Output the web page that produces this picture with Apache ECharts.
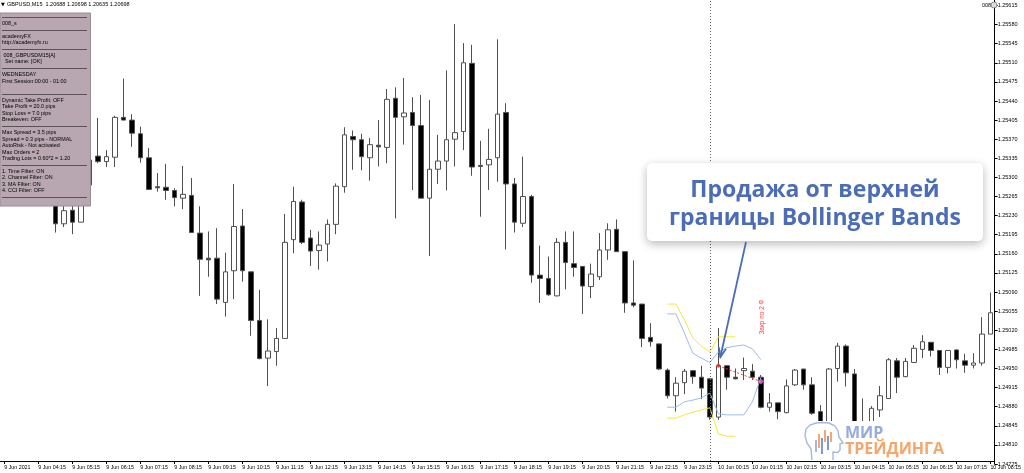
<!DOCTYPE html>
<html><head><meta charset="utf-8"><title>GBPUSD M15</title>
<script src="https://cdn.jsdelivr.net/npm/echarts@6.0.0/dist/echarts.min.js"></script>
<style>html,body{margin:0;padding:0;background:#fff;overflow:hidden}#chart{width:1024px;height:473px}</style>
</head><body><div id="chart"></div>
<script>
const tickLabels = ['9 Jun 2021','9 Jun 04:15','9 Jun 05:15','9 Jun 06:15','9 Jun 07:15','9 Jun 08:15','9 Jun 09:15','9 Jun 10:15','9 Jun 11:15','9 Jun 12:15','9 Jun 13:15','9 Jun 14:15','9 Jun 15:15','9 Jun 16:15','9 Jun 17:15','9 Jun 18:15','9 Jun 19:15','9 Jun 20:15','9 Jun 21:15','9 Jun 22:15','9 Jun 23:15','10 Jun 00:15','10 Jun 01:15','10 Jun 02:15','10 Jun 03:15','10 Jun 04:15','10 Jun 05:15','10 Jun 06:15','10 Jun 07:15','10 Jun 08:15'];

const open = [
1.25350,1.25360,1.25323,1.25305,1.25314,1.25277,1.25262,1.25215,1.25240,1.25218,
1.25286,1.25339,1.25329,1.25337,1.25410,1.25405,1.25380,1.25336,1.25283,1.25282,
1.25276,1.25262,1.25267,1.25198,1.25152,1.25152,1.25071,1.25129,1.25211,1.25127,
1.25038,1.24969,1.24981,1.25005,1.25186,1.25255,1.25189,1.25166,1.25178,1.25214,
1.25283,1.25375,1.25369,1.25336,1.25359,1.25355,1.25445,1.25411,1.25419,1.25395,
1.25262,1.25315,1.25330,1.25370,1.25384,1.25509,1.25322,1.25323,1.25336,1.25419,
1.25288,1.25216,1.25265,1.25121,1.25115,1.25083,1.25181,1.25142,1.25137,1.25100,
1.25118,1.25167,1.25205,1.25164,1.25070,1.25068,1.25007,1.24995,1.24947,1.24900,
1.24924,1.24946,1.24934,1.24931,1.24861,1.24955,1.24934,1.24946,1.24945,1.24934,
1.24879,1.24887,1.24869,1.24920,1.24949,1.24920,1.24871,1.24828,1.24950,1.24991,
1.24940,1.24815,1.24837,1.24874,1.24895,1.24964,1.24935,1.24961,1.24985,1.24998,
1.24983,1.24952,1.24984,1.24964,1.24956,1.24960,1.25013];
const close = [
1.25360,1.25323,1.25305,1.25314,1.25277,1.25268,1.25215,1.25239,1.25218,1.25286,
1.25332,1.25329,1.25338,1.25410,1.25405,1.25381,1.25336,1.25278,1.25281,1.25276,
1.25263,1.25269,1.25199,1.25150,1.25149,1.25077,1.25127,1.25210,1.25129,1.25038,
1.24968,1.24982,1.25005,1.25181,1.25256,1.25181,1.25165,1.25176,1.25214,1.25284,
1.25378,1.25369,1.25338,1.25360,1.25356,1.25443,1.25410,1.25418,1.25395,1.25262,
1.25315,1.25330,1.25369,1.25382,1.25510,1.25319,1.25320,1.25333,1.25416,1.25288,
1.25218,1.25265,1.25121,1.25115,1.25085,1.25181,1.25144,1.25135,1.25101,1.25123,
1.25167,1.25204,1.25164,1.25070,1.25066,1.25005,1.24999,1.24949,1.24900,1.24923,
1.24945,1.24935,1.24914,1.24861,1.24955,1.24934,1.24931,1.24950,1.24934,1.24879,
1.24887,1.24871,1.24918,1.24947,1.24920,1.24868,1.24837,1.24949,1.24991,1.24942,
1.24819,1.24837,1.24877,1.24900,1.24966,1.24934,1.24963,1.24987,1.24999,1.24983,
1.24952,1.24983,1.24966,1.24956,1.24960,1.25013,1.25052];
const low = [
1.25332,1.25314,1.25286,1.25277,1.25262,1.25259,1.25199,1.25209,1.25196,1.25218,
1.25273,1.25326,1.25319,1.25319,1.25405,1.25356,1.25327,1.25277,1.25274,1.25259,
1.25247,1.25242,1.25199,1.25083,1.25118,1.25068,1.25045,1.25077,1.25109,1.25010,
1.24967,1.24918,1.24955,1.25005,1.25161,1.25178,1.25138,1.25131,1.25146,1.25196,
1.25272,1.25314,1.25313,1.25294,1.25320,1.25326,1.25225,1.25360,1.25277,1.25262,
1.25156,1.25288,1.25276,1.25320,1.25350,1.25303,1.25228,1.25277,1.25292,1.25168,
1.25199,1.25209,1.25107,1.25070,1.25083,1.25082,1.25095,1.25118,1.25050,1.25079,
1.25112,1.25149,1.25164,1.25052,1.25062,1.24989,1.24990,1.24947,1.24895,1.24871,
1.24903,1.24922,1.24894,1.24856,1.24856,1.24911,1.24930,1.24929,1.24929,1.24877,
1.24871,1.24857,1.24868,1.24918,1.24911,1.24865,1.24823,1.24819,1.24926,1.24917,
1.24808,1.24801,1.24828,1.24861,1.24894,1.24905,1.24934,1.24960,1.24969,1.24972,
1.24938,1.24941,1.24950,1.24942,1.24950,1.24955,1.25013];
const high = [
1.25378,1.25387,1.25350,1.25332,1.25323,1.25299,1.25277,1.25251,1.25255,1.25295,
1.25350,1.25409,1.25350,1.25413,1.25481,1.25416,1.25393,1.25354,1.25308,1.25325,
1.25280,1.25321,1.25299,1.25247,1.25201,1.25207,1.25162,1.25288,1.25242,1.25127,
1.25094,1.25040,1.25024,1.25233,1.25283,1.25259,1.25204,1.25201,1.25223,1.25289,
1.25392,1.25386,1.25380,1.25372,1.25405,1.25462,1.25465,1.25482,1.25447,1.25451,
1.25442,1.25378,1.25496,1.25581,1.25546,1.25543,1.25367,1.25389,1.25553,1.25436,
1.25299,1.25338,1.25268,1.25175,1.25155,1.25189,1.25201,1.25201,1.25137,1.25142,
1.25198,1.25216,1.25223,1.25164,1.25148,1.25068,1.25033,1.24996,1.24950,1.24934,
1.24949,1.24947,1.24955,1.24932,1.25024,1.24956,1.24950,1.24970,1.24958,1.24938,
1.24905,1.24887,1.24930,1.24949,1.24949,1.24934,1.24883,1.24951,1.24997,1.24994,
1.24949,1.24895,1.24881,1.24918,1.24969,1.24969,1.24969,1.24993,1.25011,1.24998,
1.24983,1.24984,1.24985,1.24977,1.24978,1.25044,1.25089];

const bandStart = 78;
const bbUpper = [1.25050,1.25050,1.25015,1.24978,1.24969,1.24961,1.24980,1.24988,1.24991,1.24993,1.24986,1.24966];
const bbLower = [1.24879,1.24879,1.24889,1.24892,1.24896,1.24905,1.24867,1.24865,1.24865,1.24865,1.24889,1.24933];
const envUpper = [1.25068,1.25068,1.25039,1.25006,1.24991,1.24980,1.25008,1.25008,1.25008];
const envLower = [1.24859,1.24859,1.24865,1.24870,1.24874,1.24878,1.24830,1.24826,1.24826];

const tradeBars = [84, 89];
const tradePrices = [1.24955, 1.24926];
const signalBar = 83;
const arrowTipPrice = 1.24971;

const headerText = 'GBPUSD,M15  1.20688 1.20698 1.20635 1.20698';
const cornerText = '008';
const panelLines = ['---','008_s','---','academyFX','http://academyfx.ru','---',' 008_GBPUSDM15[A]','  Set name: [OK]','---','WEDNESDAY','First Session:00:00 - 01:00','','---',
 'Dynamic Take Profit: OFF','Take Profit = 20.0 pips','Stop Loss = 7.0 pips','Breakeven: OFF','---',
 'Max Spread = 3.5 pips','Spread = 0.3 pips - NORMAL','AutoRisk - Not activated','Max Orders = 2','Trading Lots = 0.60*2 = 1.20','---',
 '1. Time Filter: ON','2. Channel Filter: ON','3. MA Filter: ON','4. CCI Filter: OFF','---'];
const calloutLines = ['Продажа от верхней', 'границы Bollinger Bands'];
const closeNote = 'Закр по 2 Ф';
const logoLines = ['МИР', 'ТРЕЙДИНГА'];

const N = open.length;
const categories = open.map((_, i) => {
  const m = 3 * 60 + 15 + i * 15;
  const day = 9 + Math.floor(m / 1440), mm = m % 1440;
  return day + ' Jun ' + String(Math.floor(mm / 60)).padStart(2, '0') + ':' + String(mm % 60).padStart(2, '0');
});
const span = (start, vals) => { const a = new Array(N).fill(null); vals.forEach((v, k) => { a[start + k] = v; }); return a; };
const candleData = open.map((o, i) => [o, close[i], low[i], high[i]]);
const tradeLine = new Array(N).fill(null);
tradeBars.forEach((b, k) => { tradeLine[b] = tradePrices[k]; });

const SMALL = 'Liberation Sans';
const chart = echarts.init(document.getElementById('chart'), null, { renderer: 'canvas' });
chart.setOption({
  animation: false,
  backgroundColor: '#ffffff',
  grid: { left: -5, right: 25, top: 0, bottom: 9, containLabel: false },
  xAxis: {
    type: 'category', data: categories, boundaryGap: true, offset: -3,
    axisLine: { show: true, lineStyle: { color: '#000', width: 1 } },
    axisTick: { show: true, alignWithLabel: true, interval: 3, length: 3, lineStyle: { color: '#000' } },
    axisLabel: { interval: 3, fontSize: 5.3, fontFamily: SMALL, color: '#000', align: 'left', margin: 4,
      formatter: (v, i) => tickLabels[Math.round(i / 4)] || '' },
    splitLine: { show: false }
  },
  yAxis: {
    type: 'value', position: 'right', min: 1.24775, max: 1.25625, interval: 0.00035, scale: true,
    axisLine: { show: true, lineStyle: { color: '#000', width: 1 } },
    axisTick: { show: true, length: 3, lineStyle: { color: '#000' } },
    axisLabel: { fontSize: 5.5, fontFamily: SMALL, color: '#000', margin: 3, showMaxLabel: false,
      formatter: v => v.toFixed(5) },
    splitLine: { show: false }
  },
  series: [
    { type: 'candlestick', data: candleData, barWidth: 5,
      itemStyle: { color: '#ffffff', color0: '#000000', borderColor: '#505050', borderColor0: '#505050', borderWidth: 1 },
      markLine: { silent: true, symbol: 'none', label: { show: false },
        lineStyle: { color: '#666', type: [1, 2], width: 1 }, data: [{ xAxis: signalBar }] } },
    { type: 'line', data: span(bandStart, bbUpper), symbol: 'none', lineStyle: { color: '#9dbcf0', width: 1 }, z: 3 },
    { type: 'line', data: span(bandStart, bbLower), symbol: 'none', lineStyle: { color: '#9dbcf0', width: 1 }, z: 3 },
    { type: 'line', data: span(bandStart, envUpper), symbol: 'none', lineStyle: { color: '#f2ea3a', width: 1 }, z: 3 },
    { type: 'line', data: span(bandStart, envLower), symbol: 'none', lineStyle: { color: '#f2ea3a', width: 1 }, z: 3 },
    { type: 'line', data: tradeLine, connectNulls: true, symbol: 'none', lineStyle: { color: '#ff3a3a', width: 1, type: [2, 2] }, z: 4 },
    { type: 'scatter', data: [[tradeBars[0], tradePrices[0]]], symbol: 'circle', symbolSize: 4, itemStyle: { color: '#ff2020' }, z: 5 },
    { type: 'scatter', data: [[tradeBars[1], tradePrices[1]]], symbol: 'diamond', symbolSize: 6, itemStyle: { color: '#ff66e0' }, z: 5 }
  ]
});

// annotations
const g = [];
g.push({ type: 'rect', z: 100, shape: { x: 0, y: 13, width: 90.5, height: 193 }, style: { fill: '#b8a7b0', stroke: '#9a8a93', lineWidth: 1 } });
let py = 16.7;
panelLines.forEach(t => {
  if (t === '---') {
    const yy = Math.round(py) + 0.5;
    g.push({ type: 'line', z: 101, shape: { x1: 2, y1: yy, x2: 87, y2: yy }, style: { stroke: '#5d5158', lineWidth: 1 } });
  } else if (t) {
    g.push({ type: 'text', z: 101, x: 2, y: py, style: { text: t, fontSize: 5.4, fontFamily: SMALL, fill: '#000', verticalAlign: 'middle' } });
  }
  py += 6.45;
});
g.push({ type: 'text', z: 101, x: 1, y: 4.5, style: { text: '▼', fontSize: 5, fontFamily: 'DejaVu Sans', fill: '#000', verticalAlign: 'middle' } });
g.push({ type: 'text', z: 101, x: 7, y: 4.5, style: { text: headerText, fontSize: 5.5, fontFamily: SMALL, fill: '#000', verticalAlign: 'middle' } });
g.push({ type: 'text', z: 101, x: 982, y: 5, style: { text: cornerText, fontSize: 5.5, fontFamily: SMALL, fill: '#000', verticalAlign: 'middle' } });
g.push({ type: 'circle', z: 101, shape: { cx: 994, cy: 5, r: 3 }, style: { fill: '#ddd', stroke: '#777', lineWidth: 0.8 } });

// callout box
g.push({ type: 'rect', z: 110, shape: { x: 647, y: 163, width: 336, height: 78, r: 5 },
  style: { fill: '#ffffff', shadowBlur: 10, shadowColor: 'rgba(0,0,0,0.28)', shadowOffsetY: 3 } });
calloutLines.forEach((t, k) => {
  g.push({ type: 'text', z: 111, x: 815, y: 190 + k * 28.5, style: { text: t, fontSize: 23, fontWeight: 'bold', fontFamily: 'Open Sans', fill: '#4b6cb7', align: 'center', verticalAlign: 'middle' } });
});
// arrow
const tip = chart.convertToPixel({ seriesIndex: 0 }, [tradeBars[0], arrowTipPrice]);
const tx = tip[0] + 2, ty = tip[1];
const sx = 746, sy = 242;
const dx = tx - sx, dy = ty - sy, len = Math.hypot(dx, dy), ux = dx / len, uy = dy / len;
const hl = 10, ang = 0.38;
const h1 = [tx - hl * (ux * Math.cos(ang) - uy * Math.sin(ang)), ty - hl * (uy * Math.cos(ang) + ux * Math.sin(ang))];
const h2 = [tx - hl * (ux * Math.cos(-ang) - uy * Math.sin(-ang)), ty - hl * (uy * Math.cos(-ang) + ux * Math.sin(-ang))];
g.push({ type: 'line', z: 112, shape: { x1: sx, y1: sy, x2: tx, y2: ty }, style: { stroke: '#4b6cb7', lineWidth: 1.8 } });
g.push({ type: 'polyline', z: 112, shape: { points: [h1, [tx, ty], h2] }, style: { stroke: '#4b6cb7', lineWidth: 1.8, fill: null } });

// close note (red vertical)
const ex = chart.convertToPixel({ seriesIndex: 0 }, [tradeBars[1], tradePrices[1]]);
g.push({ type: 'text', z: 105, x: ex[0] + 1, y: 317, rotation: Math.PI / 2,
  style: { text: closeNote, fontSize: 6.5, fontFamily: SMALL, fill: '#ff3b3b', align: 'center', verticalAlign: 'middle' } });

// logo
g.push({ type: 'rect', z: 120, shape: { x: 800, y: 421, width: 160, height: 39 }, style: { fill: '#ffffff' } });
g.push({ type: 'polyline', z: 121, shape: { points: [[812,460],[811,449],[807,443],[805,436],[806,429],[810,425],[816,423],[822,422.5],[829,423],[835,426],[838,431],[839,437],[843,443],[840,444],[840,450],[838,452.5],[833,452],[833,460]] },
  style: { stroke: '#a3b8e4', lineWidth: 1.4, fill: null } });
const logoBars = [[815, 440, 12, '#a3b8e4'], [818, 434, 14, '#f6a76b'], [821, 438, 16, '#7d9ad6'], [824, 430, 12, '#f6a76b'], [827, 436, 14, '#7d9ad6'], [830, 432, 10, '#f6a76b']];
logoBars.forEach(b => g.push({ type: 'rect', z: 121, shape: { x: b[0], y: b[1], width: 2, height: b[2] }, style: { fill: b[3] } }));
g.push({ type: 'text', z: 121, x: 845, y: 433, style: { text: logoLines[0], fontSize: 16, fontWeight: 'bold', fontFamily: 'Open Sans', fill: '#93abdd', verticalAlign: 'middle' } });
g.push({ type: 'text', z: 121, x: 845, y: 449, style: { text: logoLines[1], fontSize: 16, fontWeight: 'bold', fontFamily: 'Open Sans', fill: '#f6a66a', verticalAlign: 'middle' } });

chart.setOption({ graphic: { elements: g } });
</script></body></html>
